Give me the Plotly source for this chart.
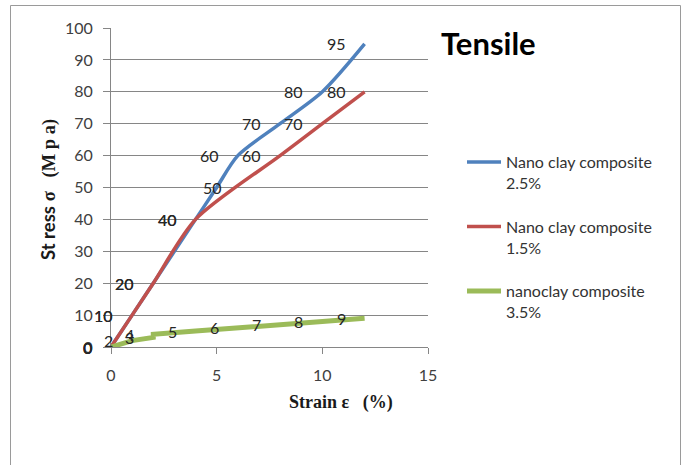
import plotly.graph_objects as go

# Tensile test data: strain (%) vs stress (MPa)
strain_25 = [0, 1, 2, 4, 5, 6, 8, 10, 12]
stress_25 = [0, 10, 20, 40, 50, 60, 70, 80, 95]

strain_15 = [0, 1, 2, 4, 8, 10, 12]
stress_15 = [0, 10, 20, 40, 60, 70, 80]

strain_35 = [0, 1, 2, 2, 4, 6, 8, 10, 12]
stress_35 = [0, 2, 3, 4, 5, 6, 7, 8, 9]

names = ["Nano clay composite<br>2.5%",
         "Nano clay composite<br>1.5%",
         "nanoclay composite<br>3.5%"]
colors = ["#4F81BD", "#C0504D", "#9BBB59"]

x_ticks = [0, 5, 10, 15]
y_ticks = [0, 10, 20, 30, 40, 50, 60, 70, 80, 90, 100]

W, H = 686, 465
L, R, T, B = 111, 258, 28, 118
pw, ph = W - L - R, H - T - B


def px_x(p):
    return (p - L) / pw


def px_y(p):
    return (H - B - p) / ph


fig = go.Figure()

series = [
    (strain_25, stress_25, "spline", 3.5),
    (strain_15, stress_15, "spline", 3.5),
    (strain_35, stress_35, "linear", 5),
]
for i, (xs, ys, shape, w) in enumerate(series):
    fig.add_trace(go.Scatter(
        x=xs, y=ys, mode="lines", name=names[i],
        line=dict(color=colors[i], width=w, shape=shape, smoothing=0.8),
        legendgroup=f"g{i}", cliponaxis=False,
    ))

# value labels, placed to the left of each point
annotations = []
for i, (xs, ys, _, _) in enumerate(series):
    for xv, yv in zip(xs, ys):
        anchor, shift = "right", -17
        if i == 0 and xv == 5:
            anchor, shift = "center", -4
        annotations.append(dict(
            x=xv, y=yv, xref="x", yref="y", text=str(yv), showarrow=False,
            xanchor=anchor, yanchor="middle", xshift=shift,
            font=dict(family="Lato", size=16, color="#262626"),
        ))

annotations.append(dict(
    x=px_x(439), y=px_y(43), xref="paper", yref="paper", text="<b>Tensile</b>",
    showarrow=False, xanchor="left", yanchor="middle",
    font=dict(family="Lato", size=31, color="#000000"),
))
annotations.append(dict(
    x=px_x(341), y=px_y(402), xref="paper", yref="paper",
    text="<b>Strain ε&nbsp;&nbsp;&nbsp;(%)</b>",
    showarrow=False, xanchor="center", yanchor="middle",
    font=dict(family="Liberation Serif", size=18, color="#1a1a1a"),
))
annotations.append(dict(
    x=px_x(48), y=px_y(189), xref="paper", yref="paper",
    text=("<b>St ress</b> "
          "<span style='font-family:Liberation Serif'><b>σ&nbsp;&nbsp;&nbsp;(M p a)</b></span>"),
    textangle=-90, showarrow=False, xanchor="center", yanchor="middle",
    font=dict(family="Lato", size=18.5, color="#1a1a1a"),
))

fig.update_layout(
    width=W, height=H,
    margin=dict(l=L, r=R, t=T, b=B, pad=0),
    paper_bgcolor="white", plot_bgcolor="white",
    showlegend=True,
    legend=dict(
        x=px_x(462), y=px_y(145), xanchor="left", yanchor="top",
        font=dict(family="Lato", size=16, color="#333333"),
        bgcolor="rgba(0,0,0,0)", tracegroupgap=20, valign="top",
        itemwidth=34,
    ),
    annotations=annotations,
    shapes=[dict(
        type="rect", xref="paper", yref="paper",
        x0=px_x(10.5), x1=px_x(680.5), y0=px_y(480), y1=px_y(5.5),
        line=dict(color="#9a9a9a", width=1), fillcolor="rgba(0,0,0,0)",
        layer="below",
    )],
    xaxis=dict(
        range=[0, 15], tickvals=x_ticks, ticktext=[str(v) for v in x_ticks],
        showgrid=False, zeroline=False, showline=True, linecolor="#868686",
        linewidth=1, ticks="outside", ticklen=6, tickcolor="#868686",
        tickfont=dict(family="Lato", size=16, color="#404040"),
        ticklabelstandoff=8,
    ),
    yaxis=dict(
        range=[0, 100], tickvals=y_ticks, ticktext=[str(v) for v in y_ticks],
        showgrid=True, gridcolor="#868686", gridwidth=1, zeroline=False,
        showline=True, linecolor="#868686", linewidth=1,
        ticks="outside", ticklen=7, tickcolor="#868686",
        tickfont=dict(family="Lato", size=16, color="#404040"),
        ticklabelstandoff=7,
    ),
)

fig.write_html("out.html")
